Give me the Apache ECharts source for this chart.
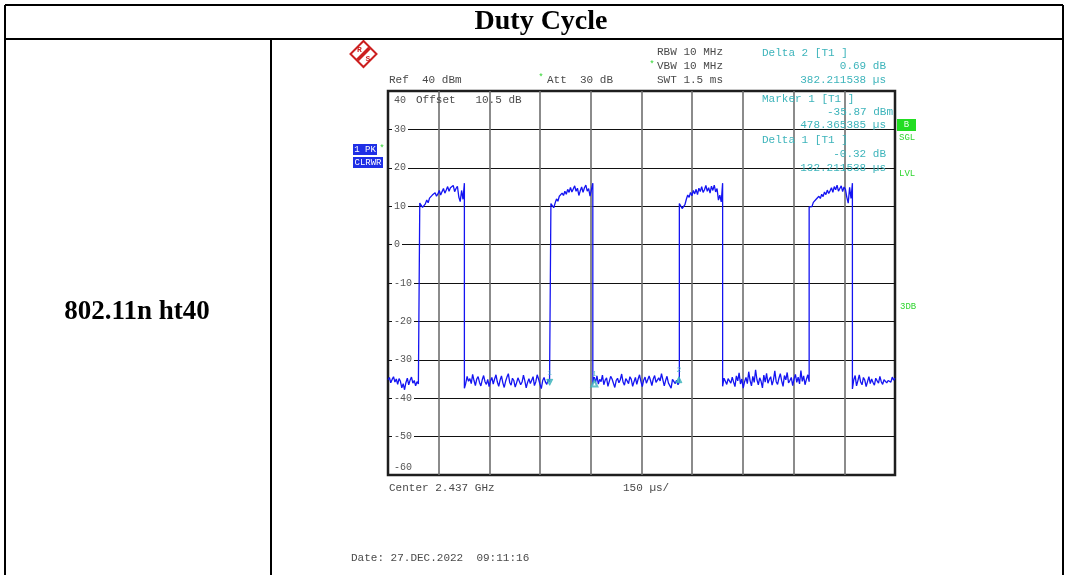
<!DOCTYPE html>
<html>
<head>
<meta charset="utf-8">
<script src="https://cdn.jsdelivr.net/npm/echarts@6/dist/echarts.min.js"></script>
<style>
  html, body { margin: 0; padding: 0; background: #fff; }
  #chart { width: 1068px; height: 575px; }
</style>
</head>
<body>
<div id="chart"></div>
<script>
// Sweep: zero span, 1.5 ms sweep, 150 µs per division
const sweepTimeUs = 1500;
const timeDivUs = 150;
// Level axis (dBm), ref level 40 dBm, 10 dB per division
const levelMax = 40;
const levelMin = -60;
const levelDiv = 10;

// Edge times (µs) bounding each trace segment
const segmentEdgeUs = [0, 94, 226, 482, 606, 862, 990, 1246, 1374, 1500];

// Trace levels (dBm), one list per segment in sweep order
const noise0 = [-35.2, -34.6, -36.0, -35.1, -34.4, -35.8, -35.0, -36.4, -34.9, -35.6,
  -37.3, -36.2, -37.8, -35.9, -34.8, -36.5, -35.3, -34.5, -36.1, -35.4, -36.8, -35.7, -36.3, -35.9];
const burst1 = [10.8, 10.7, 9.7, 9.5, 10.6, 11.6, 10.9, 12.1, 11.7, 12.9, 12.4, 13.5, 12.6, 13.2,
  14.1, 12.9, 13.8, 14.6, 13.4, 14.2, 15.1, 13.9, 14.8, 14.3, 15.4, 13.8, 14.6, 15.2, 12.4, 11.2,
  14.1, 11.8, 16.0];
const noise1 = [-37.4, -36.1, -34.3, -35.6, -34.9, -36.2, -33.8, -35.4, -36.7, -35.0, -34.4, -35.9,
  -36.8, -35.2, -34.1, -35.7, -36.4, -35.1, -37.0, -35.5, -34.6, -36.3, -35.0, -33.9, -35.8, -36.9,
  -35.3, -34.2, -36.0, -37.2, -35.6, -34.5, -33.6, -35.9, -36.6, -34.8, -35.4, -37.1, -36.0, -34.7,
  -35.2, -36.5, -35.8, -34.0, -35.5, -37.3, -35.9, -34.9, -36.2, -35.3, -34.4, -36.7, -35.7, -33.9,
  -35.0, -36.3, -37.5, -35.4, -34.6, -35.8, -36.4, -35.1, -35.7, -35.9];
const burst2 = [10.7, 10.5, 9.6, 10.8, 11.9, 11.3, 12.6, 12.2, 13.4, 12.8, 13.9, 13.1, 14.4, 13.6,
  14.9, 13.7, 14.5, 15.3, 13.9, 14.7, 12.8, 14.0, 15.0, 13.6, 14.8, 15.5, 13.9, 14.6, 12.6, 12.1, 16.0];
const noise2 = [-36.8, -34.5, -35.9, -34.2, -36.3, -35.1, -35.7, -34.0, -36.5, -35.3, -34.7, -36.9,
  -35.6, -34.3, -35.0, -36.1, -37.2, -35.4, -34.8, -36.0, -35.2, -33.7, -35.8, -36.6, -34.9, -35.5,
  -36.2, -34.4, -35.1, -36.9, -35.7, -34.6, -36.4, -35.0, -33.9, -35.6, -37.0, -35.3, -34.5, -36.1,
  -35.8, -34.2, -35.4, -36.7, -35.0, -34.1, -35.9, -36.3, -34.7, -35.5, -33.6, -35.2, -36.8, -35.4,
  -34.3, -36.0, -35.6, -37.4, -35.1, -34.6, -36.2, -35.3, -36.5, -35.8];
const burst3 = [10.7, 10.6, 9.4, 9.8, 10.4, 11.8, 12.9, 12.3, 13.6, 12.7, 14.1, 13.2, 14.4, 13.0,
  14.7, 13.8, 15.1, 13.6, 14.3, 15.4, 13.9, 14.8, 13.4, 15.2, 14.1, 15.5, 13.7, 14.6, 11.6, 12.9, 11.1, 16.0];
const noise3 = [-36.9, -34.8, -35.6, -36.4, -34.9, -35.3, -36.1, -34.5, -35.8, -37.0, -34.2, -35.5,
  -33.4, -36.3, -35.0, -37.4, -35.7, -34.6, -36.2, -33.1, -35.4, -36.8, -34.3, -35.9, -32.6, -35.2,
  -36.5, -34.7, -35.6, -37.3, -34.0, -35.8, -33.5, -36.1, -35.1, -34.4, -36.6, -35.3, -32.9, -35.7,
  -36.4, -34.8, -33.6, -35.5, -36.9, -34.1, -35.2, -33.3, -36.0, -35.4, -34.6, -36.7, -35.0, -33.8,
  -35.9, -34.5, -36.3, -32.8, -35.6, -34.2, -36.5, -35.1, -33.9, -35.7];
const burst4 = [9.8, 10.2, 9.9, 11.0, 10.6, 11.8, 11.4, 12.6, 12.0, 13.1, 12.5, 13.7, 13.0, 14.2,
  13.3, 14.0, 14.8, 13.6, 15.1, 14.3, 15.5, 13.9, 14.6, 15.3, 13.8, 15.0, 14.4, 12.3, 10.8, 14.9, 12.0, 16.0];
const noise4 = [-37.6, -35.2, -34.1, -36.8, -35.4, -33.9, -35.8, -36.5, -34.6, -35.3, -37.0, -35.7,
  -34.4, -36.2, -35.0, -35.9, -36.6, -34.8, -35.5, -36.1, -34.3, -35.7, -36.4, -35.2, -34.7, -36.0,
  -35.4, -34.9, -35.8, -34.5, -35.3, -34.8];
const segments = [noise0, burst1, noise1, burst2, noise2, burst3, noise3, burst4, noise4];

// Marker readouts
const marker1TimeUs = 478.365385, marker1Dbm = -35.87;
const delta1TimeUs = 132.211538, delta1Db = -0.32;
const delta2TimeUs = 382.211538, delta2Db = 0.69;

// Build the trace as (time, level) pairs; samples of a segment span its two edges,
// so every burst edge is drawn as a vertical step
const trace = [];
segments.forEach((vals, k) => {
  const t0 = segmentEdgeUs[k], t1 = segmentEdgeUs[k + 1];
  const step = (t1 - t0) / (vals.length - 1);
  vals.forEach((v, i) => trace.push([t0 + i * step, v]));
});

const TEAL = '#3db4bb';
const GREY = '#4a4a4a';
const GREEN = '#2fd52f';
const MONO = '"Liberation Mono", "DejaVu Sans Mono", monospace';
const SERIF = '"Liberation Serif", "DejaVu Serif", serif';

function txt(x, y, text, opts) {
  opts = opts || {};
  return {
    type: 'text', x: x, y: y, z: 20,
    style: {
      text: text,
      fill: opts.fill || GREY,
      font: opts.font || ('11px ' + MONO),
      textAlign: opts.align || 'left',
      textVerticalAlign: 'middle'
    }
  };
}
function line(x1, y1, x2, y2, w) {
  return { type: 'line', z: 20, shape: { x1, y1, x2, y2 }, style: { stroke: '#000', lineWidth: w || 2 } };
}

const markerPoints = [
  { value: [marker1TimeUs, marker1Dbm], symbol: 'triangle', symbolRotate: 180, label: { formatter: '1' } },
  { value: [marker1TimeUs + delta1TimeUs, marker1Dbm + delta1Db], symbol: 'emptyTriangle', label: { formatter: '1' } },
  { value: [marker1TimeUs + delta2TimeUs, marker1Dbm + delta2Db], symbol: 'triangle', label: { formatter: '2' } }
];

const chart = echarts.init(document.getElementById('chart'), null, { renderer: 'canvas' });
chart.setOption({
  animation: false,
  backgroundColor: '#fff',
  grid: {
    left: 388, top: 91, width: 507, height: 384,
    show: true, borderColor: '#1e1e1e', borderWidth: 2.5, backgroundColor: 'transparent'
  },
  xAxis: {
    type: 'value', min: 0, max: sweepTimeUs, interval: timeDivUs,
    axisLine: { show: false }, axisTick: { show: false }, axisLabel: { show: false },
    splitLine: { show: true, showMinLine: false, showMaxLine: false, lineStyle: { color: '#6e6e6e', width: 1.6 } }
  },
  yAxis: {
    type: 'value', min: levelMin, max: levelMax, interval: levelDiv,
    axisLine: { show: false }, axisTick: { show: false },
    splitLine: { show: true, showMinLine: false, showMaxLine: false, lineStyle: { color: '#111', width: 1 } },
    axisLabel: {
      inside: true, margin: 4,
      formatter: v => v === levelMax ? '{top|' + v + '}' : v === levelMin ? '{bot|' + v + '}' : '{n|' + v + '}',
      rich: {
        n: { color: '#555', fontFamily: MONO, fontSize: 10, backgroundColor: '#fff', padding: [1, 2, 1, 2] },
        top: { color: '#555', fontFamily: MONO, fontSize: 10, padding: [18, 0, 0, 2] },
        bot: { color: '#555', fontFamily: MONO, fontSize: 10, padding: [0, 0, 16, 2] }
      }
    }
  },
  series: [
    {
      type: 'line', data: trace, showSymbol: false, z: 3, clip: true,
      lineStyle: { color: '#1414f2', width: 1.3 }
    },
    {
      type: 'scatter', data: markerPoints, symbolSize: 6, z: 4,
      itemStyle: { color: TEAL, borderColor: TEAL },
      label: { show: true, position: 'top', distance: 2, color: TEAL, fontFamily: MONO, fontSize: 8 }
    }
  ],
  graphic: [
    // table frame
    line(5, 5, 1063, 5), line(5, 39, 1063, 39),
    line(5, 5, 5, 575), line(1063, 5, 1063, 575), line(271, 39, 271, 575),
    txt(541, 22, 'Duty Cycle', { fill: '#000', font: 'bold 28px ' + SERIF, align: 'center' }),
    txt(137, 312, '802.11n ht40', { fill: '#000', font: 'bold 27px ' + SERIF, align: 'center' }),

    // instrument logo
    {
      type: 'group', x: 363.5, y: 54, z: 20,
      children: [
        { type: 'polygon', shape: { points: [[0, -13], [13, 0], [0, 13], [-13, 0]] },
          style: { fill: '#fff', stroke: '#cc1f1f', lineWidth: 2 } },
        { type: 'polyline', shape: { points: [[-6, 6], [6, -6]] }, style: { stroke: '#cc1f1f', lineWidth: 3.5 } },
        { type: 'text', x: -4, y: -4, style: { text: 'R', fill: '#cc1f1f', font: 'bold 8px ' + MONO, textAlign: 'center', textVerticalAlign: 'middle' } },
        { type: 'text', x: 4.5, y: 5, style: { text: 'S', fill: '#cc1f1f', font: 'bold 8px ' + MONO, textAlign: 'center', textVerticalAlign: 'middle' } }
      ]
    },

    // header readouts
    txt(389, 80, 'Ref  40 dBm'),
    txt(541, 78, '*', { fill: GREEN, font: '9px ' + MONO, align: 'center' }),
    txt(547, 80, 'Att  30 dB'),
    txt(657, 52, 'RBW 10 MHz'),
    txt(652, 65, '*', { fill: GREEN, font: '9px ' + MONO, align: 'center' }),
    txt(657, 66, 'VBW 10 MHz'),
    txt(657, 80, 'SWT 1.5 ms'),
    txt(762, 53, 'Delta 2 [T1 ]', { fill: TEAL }),
    txt(886, 66, '0.69 dB', { fill: TEAL, align: 'right' }),
    txt(886, 80, '382.211538 µs', { fill: TEAL, align: 'right' }),

    // in-plot readouts
    txt(416, 100, 'Offset   10.5 dB'),
    txt(762, 99, 'Marker 1 [T1 ]', { fill: TEAL }),
    txt(893, 112, '-35.87 dBm', { fill: TEAL, align: 'right' }),
    txt(886, 125, '478.365385 µs', { fill: TEAL, align: 'right' }),
    txt(762, 140, 'Delta 1 [T1 ]', { fill: TEAL }),
    txt(886, 154, '-0.32 dB', { fill: TEAL, align: 'right' }),
    txt(886, 168, '132.211538 µs', { fill: TEAL, align: 'right' }),

    // right-hand status flags
    { type: 'rect', z: 20, shape: { x: 897, y: 119, width: 19, height: 12 }, style: { fill: '#22dd22' } },
    txt(906.5, 125, 'B', { fill: '#eaffea', font: '9px ' + MONO, align: 'center' }),
    txt(899, 138, 'SGL', { fill: GREEN, font: '9px ' + MONO }),
    txt(899, 174, 'LVL', { fill: GREEN, font: '9px ' + MONO }),
    txt(900, 307, '3DB', { fill: GREEN, font: '9px ' + MONO }),

    // trace mode tags
    { type: 'rect', z: 20, shape: { x: 353, y: 144, width: 24, height: 11 }, style: { fill: '#1f2fe6' } },
    txt(365, 149.5, '1 PK', { fill: '#fff', font: '9px ' + MONO, align: 'center' }),
    txt(382, 149, '*', { fill: GREEN, font: '9px ' + MONO, align: 'center' }),
    { type: 'rect', z: 20, shape: { x: 353, y: 157, width: 30, height: 11 }, style: { fill: '#1f2fe6' } },
    txt(368, 162.5, 'CLRWR', { fill: '#fff', font: '9px ' + MONO, align: 'center' }),

    // footer
    txt(389, 488, 'Center 2.437 GHz'),
    txt(623, 488, '150 µs/'),
    txt(351, 558, 'Date: 27.DEC.2022  09:11:16')
  ]
});
</script>
</body>
</html>
